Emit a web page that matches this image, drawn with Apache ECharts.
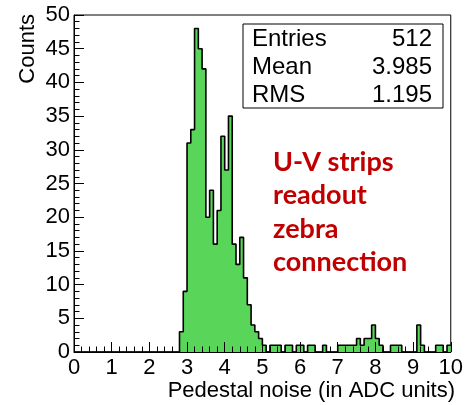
<!DOCTYPE html>
<html>
<head>
<meta charset="utf-8">
<script src="https://cdn.jsdelivr.net/npm/echarts@6/dist/echarts.min.js"></script>
<style>
  html, body { margin: 0; padding: 0; background: #fff; }
  #main { width: 466px; height: 405px; }
</style>
</head>
<body>
<div id="main"></div>
<script>
// histogram: 0.1 wide bins, first filled bin starts at 2.8
var binStart = 2.8;
var binWidth = 0.1;
var counts = [
  3, 9, 31, 33, 48, 45, 42, 20, 24, 16, 21, 32, 27, 35, 16, 13, 17, 11, 7, 4, 3, 2,   // 2.8 - 4.9
  1, 0, 1, 1, 1, 0, 1, 1, 0, 1,   // 5.x
  1, 0, 1, 1, 0, 0, 1, 0, 0, 0,   // 6.x
  1, 1, 1, 1, 1, 2, 1, 2, 2, 4,   // 7.x
  2, 1, 0, 0, 1, 1, 1, 0, 0, 0,   // 8.x
  0, 4, 1, 0, 0, 0, 1, 1, 0, 1    // 9.x
];
var xTicks = [0, 1, 2, 3, 4, 5, 6, 7, 8, 9, 10];
var yTicks = [0, 5, 10, 15, 20, 25, 30, 35, 40, 45, 50];
var statNames = ['Entries', 'Mean', 'RMS'];
var statValues = ['512', '3.985', '1.195'];
var noteLines = ['U-V strips', 'readout', 'zebra', 'connection'];

var stepData = [[0, 0]];
for (var i = 0; i < counts.length; i++) {
  stepData.push([+(binStart + binWidth * i).toFixed(2), counts[i]]);
}
stepData.push([xTicks[xTicks.length - 1], counts[counts.length - 1]]);

var axisFont = 'Liberation Sans, Arial, Helvetica, sans-serif';

var graphics = [
  { type: 'text', x: 28, y: 14, rotation: Math.PI / 2,
    style: { text: 'Counts', font: '22px ' + axisFont, fill: '#000', align: 'right', verticalAlign: 'middle' } },
  { type: 'text', x: 455, y: 391,
    style: { text: 'Pedestal noise (in ADC units)', font: '22px ' + axisFont, fill: '#000', align: 'right', verticalAlign: 'middle' } },
  { type: 'rect', shape: { x: 243, y: 24, width: 200, height: 84 },
    style: { fill: '#fff', stroke: '#000', lineWidth: 1 }, z: 10 }
];
for (var s = 0; s < statNames.length; s++) {
  graphics.push({ type: 'text', x: 252, y: 39.5 + s * 28, z: 11,
    style: { text: statNames[s], font: '24px ' + axisFont, fill: '#000', align: 'left', verticalAlign: 'middle' } });
  graphics.push({ type: 'text', x: 432, y: 39.5 + s * 28, z: 11,
    style: { text: statValues[s], font: '24px ' + axisFont, fill: '#000', align: 'right', verticalAlign: 'middle' } });
}
for (var k = 0; k < noteLines.length; k++) {
  graphics.push({ type: 'text', x: 273, y: 162 + k * 33.5, z: 11,
    style: { text: noteLines[k], font: 'bold 27px Lato, sans-serif', fill: '#c00000', align: 'left', verticalAlign: 'middle' } });
}

var option = {
  animation: false,
  backgroundColor: '#fff',
  grid: { left: 74, right: 11, top: 15, bottom: 53, show: true, borderColor: '#000', borderWidth: 1 },
  xAxis: {
    type: 'value', min: xTicks[0], max: xTicks[xTicks.length - 1], interval: 1, z: 5,
    axisLine: { lineStyle: { color: '#000', width: 1 } },
    axisTick: { inside: true, length: 10, lineStyle: { color: '#000' } },
    minorTick: { show: true, splitNumber: 5, length: 5.5, lineStyle: { color: '#000' } },
    splitLine: { show: false },
    axisLabel: { color: '#000', fontSize: 22, fontFamily: axisFont, margin: 5 }
  },
  yAxis: {
    type: 'value', min: yTicks[0], max: yTicks[yTicks.length - 1], interval: 5, z: 5,
    axisLine: { show: true, lineStyle: { color: '#000', width: 1 } },
    axisTick: { show: true, inside: true, length: 10, lineStyle: { color: '#000' } },
    minorTick: { show: true, splitNumber: 5, length: 5.5, lineStyle: { color: '#000' } },
    splitLine: { show: false },
    axisLabel: { color: '#000', fontSize: 22, fontFamily: axisFont, margin: 4 }
  },
  series: [{
    type: 'line',
    step: 'end',
    data: stepData,
    symbol: 'none',
    lineStyle: { color: '#000', width: 1.6 },
    areaStyle: { color: '#59d659', opacity: 1 }
  }],
  graphic: graphics
};

var myChart = echarts.init(document.getElementById('main'));
myChart.setOption(option);
</script>
</body>
</html>
